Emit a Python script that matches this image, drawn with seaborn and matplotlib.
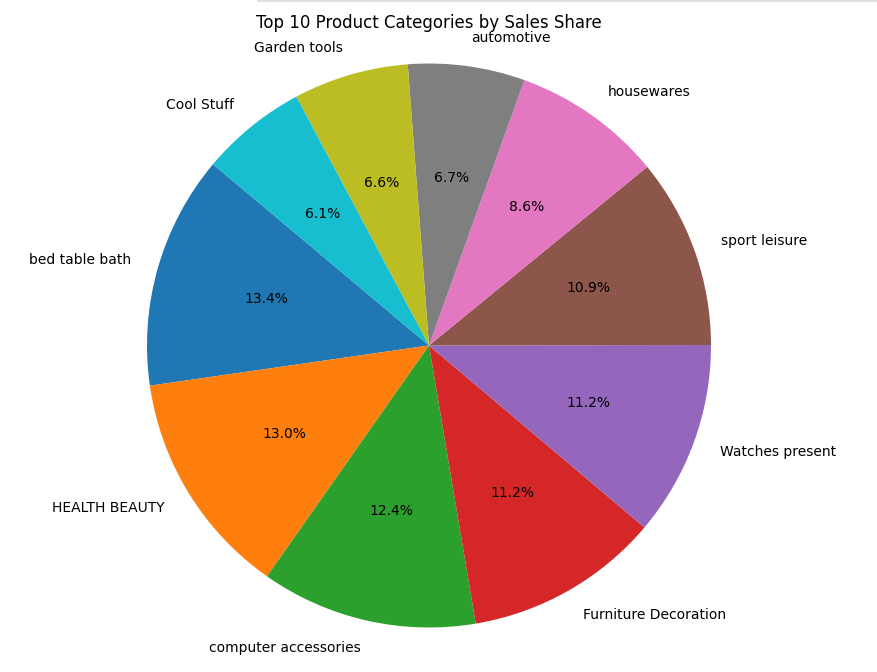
import matplotlib
matplotlib.use('Agg')
import matplotlib.pyplot as plt
from matplotlib.lines import Line2D
import seaborn as sns

# Sales share of the top 10 product categories (percent)
categories = ['bed table bath', 'HEALTH BEAUTY', 'computer accessories',
              'Furniture Decoration', 'Watches present', 'sport leisure',
              'housewares', 'automotive', 'Garden tools', 'Cool Stuff']
shares = [13.4, 13.0, 12.4, 11.2, 11.2, 10.9, 8.6, 6.7, 6.6, 6.1]

colors = sns.color_palette('tab10', len(categories))

W, H = 878, 672
fig = plt.figure(figsize=(W / 100, H / 100), dpi=100)
ax = fig.add_axes([0, 0, 1, 1])

ax.pie(shares, labels=categories, colors=colors, autopct='%1.1f%%',
       startangle=140, textprops={'fontsize': 10})

# place the pie: centre in px from top-left, radius in px
cx, cy, r = 429, 345.5, 282
ax.set_xlim(-cx / r, (W - cx) / r)
ax.set_ylim(-(H - cy) / r, cy / r)
ax.set_aspect('auto')
ax.axis('off')

fig.text(cx / W, 1 - 23.5 / H, 'Top 10 Product Categories by Sales Share',
         ha='center', va='center', fontsize=12)

# faint border line along the top edge
fig.add_artist(Line2D([258 / W, 1], [1 - 0.5 / H, 1 - 0.5 / H],
                      transform=fig.transFigure, color='#d9d9d9', lw=1.2))

fig.savefig('out.png', dpi=100)
